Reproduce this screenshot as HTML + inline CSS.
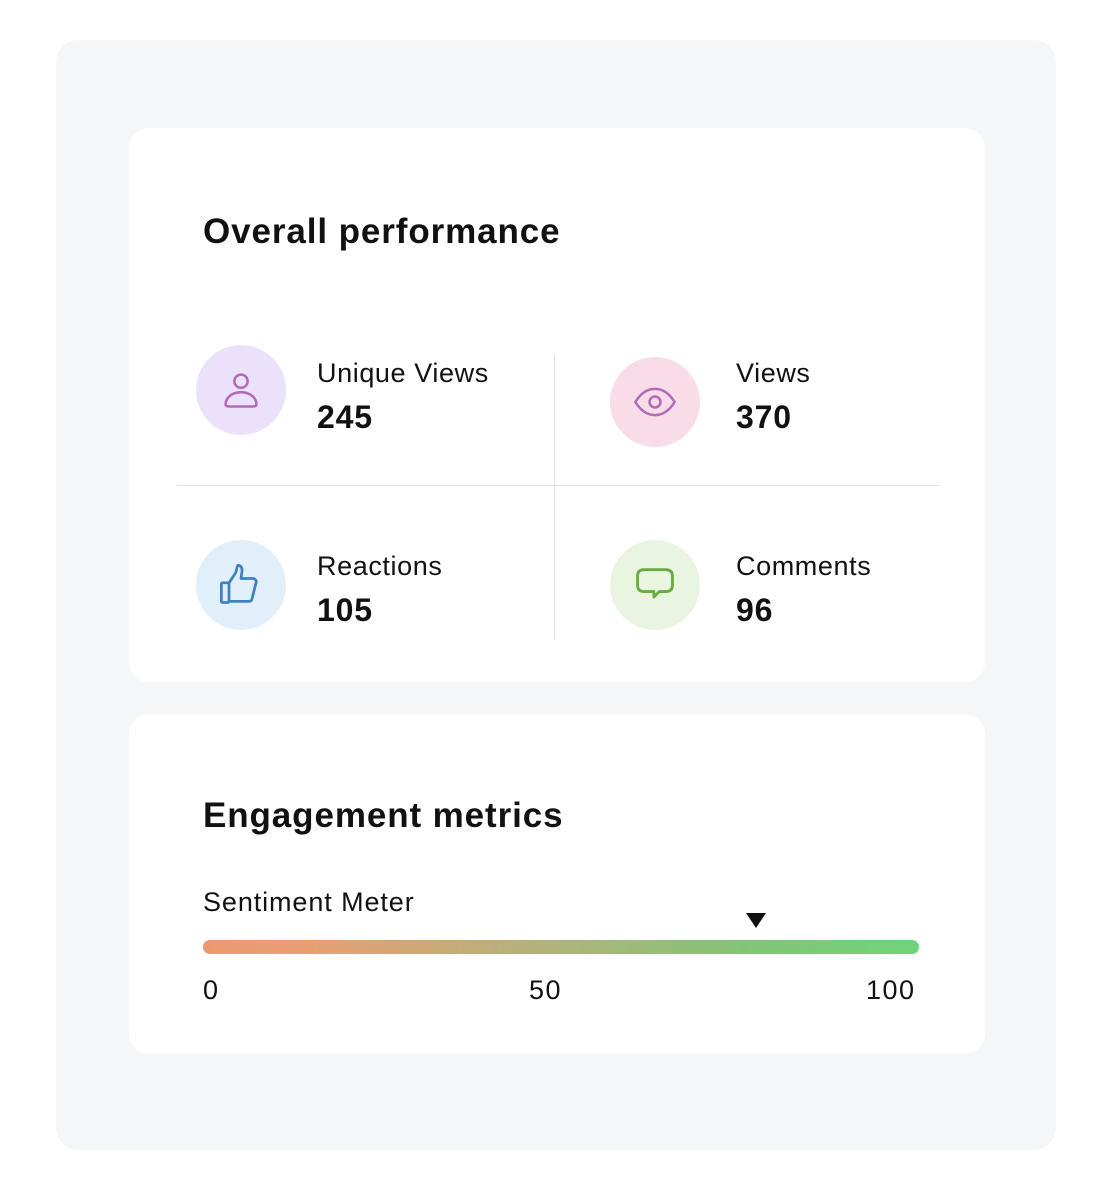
<!DOCTYPE html>
<html><head><meta charset="utf-8"><style>
*{margin:0;padding:0;box-sizing:border-box}
body{width:1094px;height:1188px;background:#fff;font-family:"Liberation Sans",sans-serif;color:#111;position:relative;overflow:hidden}
.outer{position:absolute;left:56px;top:40px;width:1000px;height:1110px;background:#f5f6f8;border-radius:22px}
.card{position:absolute;left:129px;width:856px;background:#fff;border-radius:20px}
.a{position:absolute;white-space:nowrap}
.h{font-size:35px;font-weight:bold;letter-spacing:0.9px}
.lbl{font-size:27px;letter-spacing:0.6px}
.val{font-size:32px;font-weight:bold;letter-spacing:0.8px}
.ic{position:absolute;width:90px;height:90px;border-radius:50%;display:flex;align-items:center;justify-content:center}
</style></head><body>
<div class="outer"></div>
<div class="card" style="top:128px;height:554px"></div>
<div class="card" style="top:714px;height:340px"></div>

<div class="a h" style="left:203px;top:212px">Overall performance</div>
<div class="a" style="left:554px;top:355px;width:1px;height:285px;background:#e2e2e2"></div>
<div class="a" style="left:177px;top:485px;width:763px;height:1px;background:#e2e2e2"></div>

<div class="ic" style="left:196px;top:345px;background:#ece1fb">
<svg width="44" height="44" viewBox="0 0 40 40" fill="none" stroke="#b16ab8" stroke-width="2.3"><circle cx="20" cy="12" r="6"/><path d="M6 33c0-6 6-11 14-11s14 5 14 11c0 2-2 2-4 2H10c-2 0-4 0-4-2z"/></svg></div>
<div class="a lbl" style="left:317px;top:358px">Unique Views</div>
<div class="a val" style="left:317px;top:399px">245</div>

<div class="ic" style="left:610px;top:357px;background:#f8dde8">
<svg width="48" height="48" viewBox="0 0 44 44" fill="none" stroke="#b16ab8" stroke-width="2.3"><path d="M4 22c5-8 11-12 18-12s13 4 18 12c-5 8-11 12-18 12S9 30 4 22z"/><circle cx="22" cy="22" r="5"/></svg></div>
<div class="a lbl" style="left:736px;top:358px">Views</div>
<div class="a val" style="left:736px;top:399px">370</div>

<div class="ic" style="left:196px;top:540px;background:#e1effb">
<svg width="48" height="48" viewBox="0 0 44 44" fill="none" stroke="#3e80c0" stroke-width="2.5" stroke-linejoin="round"><rect x="4" y="20" width="7" height="18" rx="1"/><path d="M11 20l6-9c1-2 1-5 2-7 3 0 4 2 4 5l-1 7h11c2 0 3 2 3 3l-4 16c0 1-1 2-3 2H11"/></svg></div>
<div class="a lbl" style="left:317px;top:551px">Reactions</div>
<div class="a val" style="left:317px;top:592px">105</div>

<div class="ic" style="left:610px;top:540px;background:#e9f5e1">
<svg width="48" height="48" viewBox="0 0 44 44" fill="none" stroke="#6aaa3e" stroke-width="2.6" stroke-linejoin="round"><path d="M12 8h20c4 0 6 2 6 6v8c0 4-2 6-6 6h-6l-5 5v-5h-9c-4 0-6-2-6-6v-8c0-4 2-6 6-6z"/></svg></div>
<div class="a lbl" style="left:736px;top:551px">Comments</div>
<div class="a val" style="left:736px;top:592px">96</div>

<div class="a h" style="left:203px;top:796px">Engagement metrics</div>
<div class="a lbl" style="left:203px;top:887px;letter-spacing:0.9px">Sentiment Meter</div>
<div class="a" style="left:746px;top:913px;width:0;height:0;border-left:10px solid transparent;border-right:10px solid transparent;border-top:15px solid #111"></div>
<div class="a" style="left:203px;top:940px;width:716px;height:14px;border-radius:7px;background:linear-gradient(90deg,#ee9872 0%,#e79f72 15%,#b6b17a 45%,#85c478 75%,#6ed479 100%)"></div>
<div class="a lbl" style="left:203px;top:975px">0</div>
<div class="a lbl" style="left:529px;top:975px;letter-spacing:1.5px">50</div>
<div class="a lbl" style="left:866px;top:975px;letter-spacing:1.5px">100</div>
</body></html>
